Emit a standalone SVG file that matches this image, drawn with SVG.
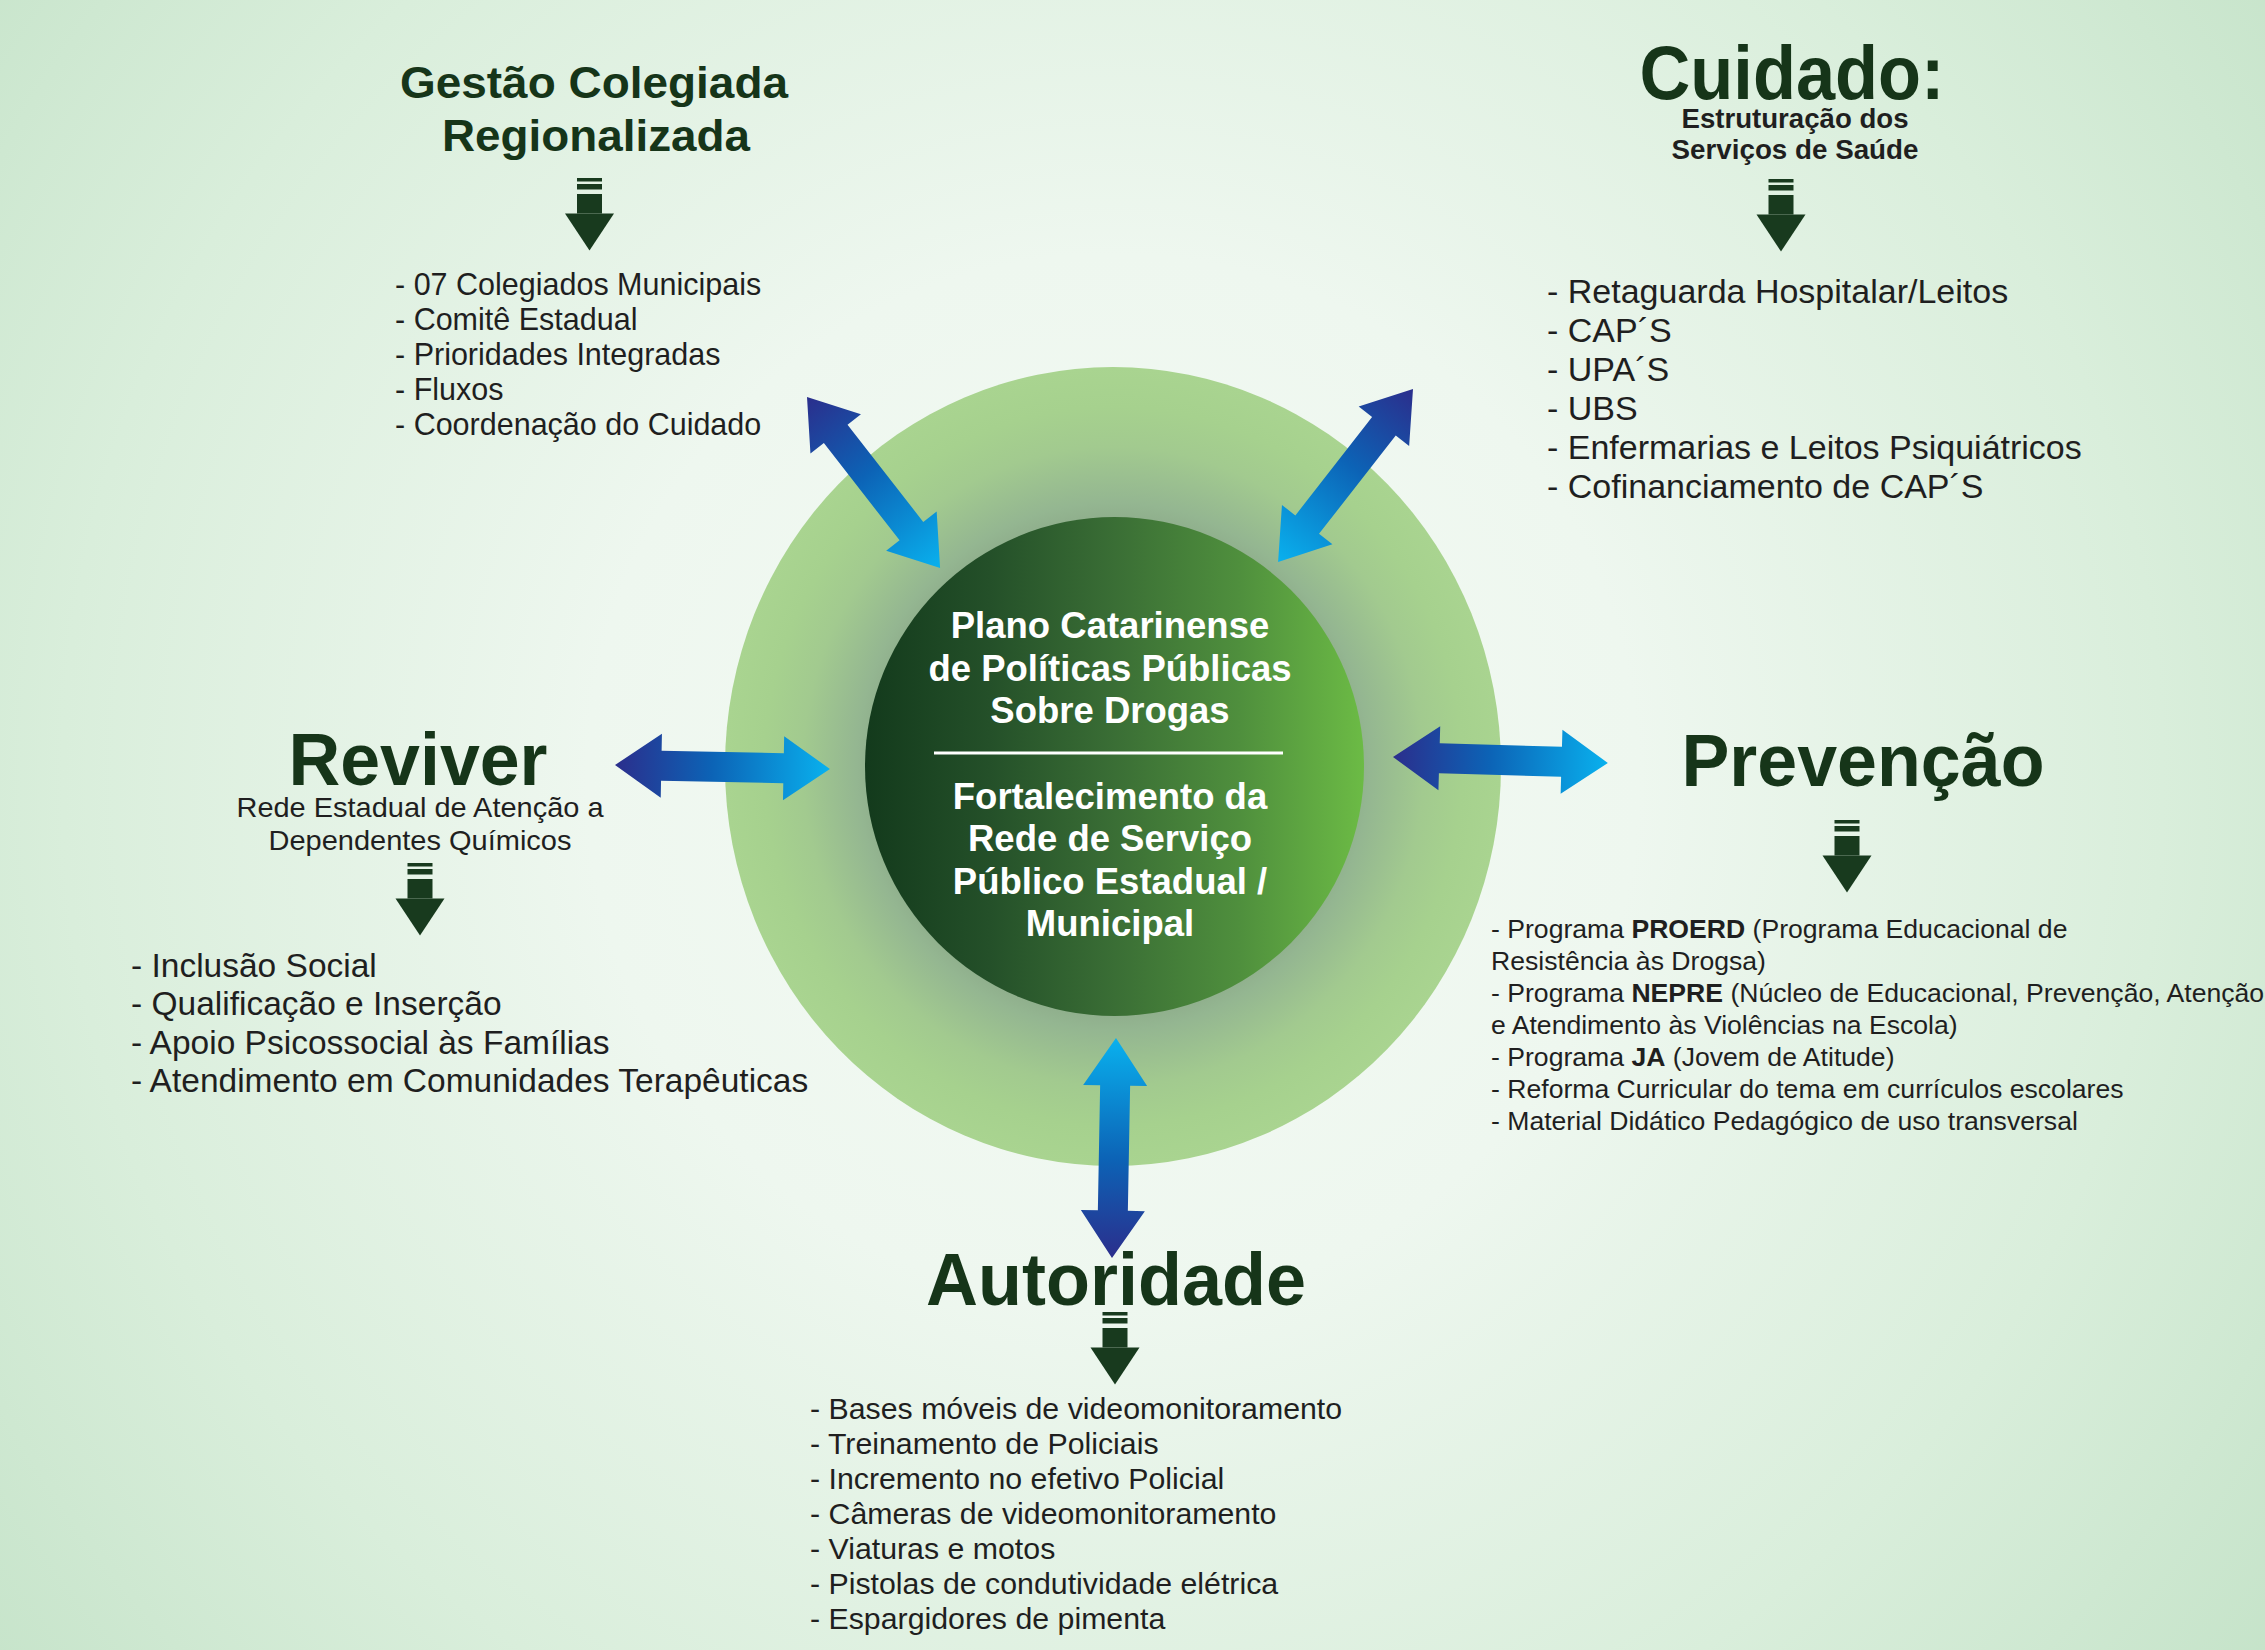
<svg xmlns="http://www.w3.org/2000/svg" xmlns:xlink="http://www.w3.org/1999/xlink" width="2265" height="1650" viewBox="0 0 2265 1650">
<style>
text{font-family:"Liberation Sans",Arial,Helvetica,sans-serif}
.h{fill:#163519;font-weight:bold}
.sub{fill:#1f1f1f}
.li{fill:#1f1f1f}
.ct{fill:#ffffff;font-weight:bold;font-size:36.5px}
.icon{fill:#183a1e}
</style>
<defs>
<radialGradient id="bg" gradientUnits="userSpaceOnUse" cx="1113" cy="780" r="1500">
<stop offset="0" stop-color="#f4faf4"/>
<stop offset="0.35" stop-color="#eef7ef"/>
<stop offset="0.7" stop-color="#d9eedb"/>
<stop offset="1" stop-color="#c3e2c7"/>
</radialGradient>
<radialGradient id="ring" cx="0.5" cy="0.5" r="0.5">
<stop offset="0.6" stop-color="#8dab8a"/>
<stop offset="0.66" stop-color="#94b691"/>
<stop offset="0.8" stop-color="#a2ca8f"/>
<stop offset="0.9" stop-color="#a6d18e"/>
<stop offset="1" stop-color="#a9d490"/>
</radialGradient>
<linearGradient id="core" x1="0" y1="0" x2="1" y2="0">
<stop offset="0" stop-color="#133a1c"/>
<stop offset="0.25" stop-color="#245029"/>
<stop offset="0.5" stop-color="#3a6e35"/>
<stop offset="0.75" stop-color="#4f8f3d"/>
<stop offset="1" stop-color="#6cbb45"/>
</linearGradient>
<linearGradient id="blue" gradientUnits="userSpaceOnUse" x1="0" y1="0" x2="218" y2="0">
<stop offset="0" stop-color="#2b2e8c"/>
<stop offset="0.45" stop-color="#0c63b6"/>
<stop offset="1" stop-color="#09b1ee"/>
</linearGradient>
<path id="dbl" fill="url(#blue)" d="M0,0 L47,-32 L47,-15 L171,-15 L171,-32 L218,0 L171,32 L171,15 L47,15 L47,32 Z"/>
<g id="dn" class="icon">
<rect x="-12.5" y="0" width="25" height="3.5"/>
<rect x="-12.5" y="6" width="25" height="5.5"/>
<rect x="-12.5" y="16" width="25" height="19.5"/>
<polygon points="-24.5,35.5 24.5,35.5 0,72.5"/>
</g>
</defs>

<rect x="0" y="0" width="2265" height="1650" fill="url(#bg)"/>

<g id="center">
<ellipse cx="1113" cy="766.5" rx="388" ry="399.5" fill="url(#ring)"/>
<circle cx="1114.5" cy="766.5" r="249.5" fill="url(#core)"/>
<text class="ct" x="1110" y="638" text-anchor="middle">Plano Catarinense</text>
<text class="ct" x="1110" y="681" text-anchor="middle">de Políticas Públicas</text>
<text class="ct" x="1110" y="723" text-anchor="middle">Sobre Drogas</text>
<text class="ct" x="1110" y="809" text-anchor="middle">Fortalecimento da</text>
<text class="ct" x="1110" y="851" text-anchor="middle">Rede de Serviço</text>
<text class="ct" x="1110" y="894" text-anchor="middle">Público Estadual /</text>
<text class="ct" x="1110" y="936" text-anchor="middle">Municipal</text>
<line x1="934" y1="753" x2="1283" y2="753" stroke="#ffffff" stroke-width="3"/>
</g>

<g id="connectors">
<use xlink:href="#dbl" transform="translate(807 397) rotate(52.1) scale(0.994 1)"/>
<use xlink:href="#dbl" transform="translate(1413 389) rotate(127.96) scale(1.006 1)"/>
<use xlink:href="#dbl" transform="translate(615 765) rotate(1.07) scale(0.986 1)"/>
<use xlink:href="#dbl" transform="translate(1393 757) rotate(1.6) scale(0.986 1)"/>
<use xlink:href="#dbl" transform="translate(1112 1258) rotate(-88.96) scale(1.009 1)"/>
</g>

<g id="gestao">
<text class="h" x="594" y="98" font-size="45" text-anchor="middle" textLength="388" lengthAdjust="spacingAndGlyphs">Gestão Colegiada</text>
<text class="h" x="596" y="151" font-size="45" text-anchor="middle" textLength="308" lengthAdjust="spacingAndGlyphs">Regionalizada</text>
<use xlink:href="#dn" x="589.5" y="178"/>
<g font-size="30.5">
<text class="li" x="395" y="295">- 07 Colegiados Municipais</text>
<text class="li" x="395" y="330">- Comitê Estadual</text>
<text class="li" x="395" y="365">- Prioridades Integradas</text>
<text class="li" x="395" y="400">- Fluxos</text>
<text class="li" x="395" y="435">- Coordenação do Cuidado</text>
</g>
</g>

<g id="cuidado">
<text class="h" x="1792" y="99" font-size="76" text-anchor="middle" textLength="305" lengthAdjust="spacingAndGlyphs">Cuidado:</text>
<text class="sub" x="1795" y="128" font-size="27" font-weight="bold" text-anchor="middle" textLength="227" lengthAdjust="spacingAndGlyphs">Estruturação dos</text>
<text class="sub" x="1795" y="159" font-size="27" font-weight="bold" text-anchor="middle" textLength="247" lengthAdjust="spacingAndGlyphs">Serviços de Saúde</text>
<use xlink:href="#dn" x="1781" y="179"/>
<g font-size="34">
<text class="li" x="1547" y="303">- Retaguarda Hospitalar/Leitos</text>
<text class="li" x="1547" y="342">- CAP´S</text>
<text class="li" x="1547" y="381">- UPA´S</text>
<text class="li" x="1547" y="420">- UBS</text>
<text class="li" x="1547" y="459">- Enfermarias e Leitos Psiquiátricos</text>
<text class="li" x="1547" y="498">- Cofinanciamento de CAP´S</text>
</g>
</g>

<g id="reviver">
<text class="h" x="418" y="785" font-size="74" text-anchor="middle" textLength="259" lengthAdjust="spacingAndGlyphs">Reviver</text>
<text class="sub" x="420" y="817" font-size="28.5" text-anchor="middle" textLength="367" lengthAdjust="spacingAndGlyphs">Rede Estadual de Atenção a</text>
<text class="sub" x="420" y="850" font-size="28.5" text-anchor="middle" textLength="303" lengthAdjust="spacingAndGlyphs">Dependentes Químicos</text>
<use xlink:href="#dn" x="420" y="863"/>
<g font-size="33.5">
<text class="li" x="131" y="977">- Inclusão Social</text>
<text class="li" x="131" y="1015">- Qualificação e Inserção</text>
<text class="li" x="131" y="1054">- Apoio Psicossocial às Famílias</text>
<text class="li" x="131" y="1092">- Atendimento em Comunidades Terapêuticas</text>
</g>
</g>

<g id="prevencao">
<text class="h" x="1863" y="786" font-size="74" text-anchor="middle" textLength="363" lengthAdjust="spacingAndGlyphs">Prevenção</text>
<use xlink:href="#dn" x="1847" y="820"/>
<g font-size="26.6">
<text class="li" x="1491" y="938">- Programa <tspan font-weight="bold">PROERD</tspan> (Programa Educacional de</text>
<text class="li" x="1491" y="970">Resistência às Drogsa)</text>
<text class="li" x="1491" y="1002">- Programa <tspan font-weight="bold">NEPRE</tspan> (Núcleo de Educacional, Prevenção, Atenção</text>
<text class="li" x="1491" y="1034">e Atendimento às Violências na Escola)</text>
<text class="li" x="1491" y="1066">- Programa <tspan font-weight="bold">JA</tspan> (Jovem de Atitude)</text>
<text class="li" x="1491" y="1098">- Reforma Curricular do tema em currículos escolares</text>
<text class="li" x="1491" y="1130">- Material Didático Pedagógico de uso transversal</text>
</g>
</g>

<g id="autoridade">
<text class="h" x="1116" y="1305" font-size="74" text-anchor="middle" textLength="380" lengthAdjust="spacingAndGlyphs">Autoridade</text>
<use xlink:href="#dn" x="1115" y="1312"/>
<g font-size="30.3">
<text class="li" x="810" y="1419">- Bases móveis de videomonitoramento</text>
<text class="li" x="810" y="1454">- Treinamento de Policiais</text>
<text class="li" x="810" y="1489">- Incremento no efetivo Policial</text>
<text class="li" x="810" y="1524">- Câmeras de videomonitoramento</text>
<text class="li" x="810" y="1559">- Viaturas e motos</text>
<text class="li" x="810" y="1594">- Pistolas de condutividade elétrica</text>
<text class="li" x="810" y="1629">- Espargidores de pimenta</text>
</g>
</g>
</svg>
